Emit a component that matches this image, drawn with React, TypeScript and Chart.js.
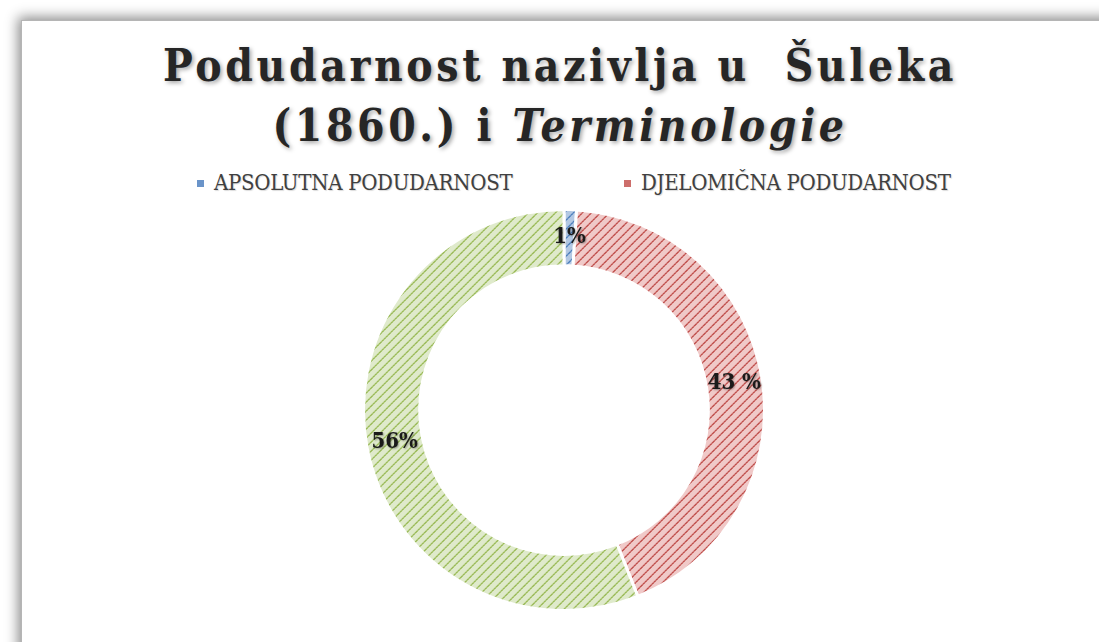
import React, { useEffect, useRef } from "react";
import { Chart, registerables } from "chart.js";

Chart.register(...registerables);

const categories = ["APSOLUTNA PODUDARNOST", "DJELOMIČNA PODUDARNOST", "NEPODUDARNOST"];
const values = [1, 43, 56];
const valueLabels = ["1%", "43 %", "56%"];
const legendShown = [0, 1];
const baseColors = ["#4f81bd", "#c0504d", "#9bbb59"];
const lightColors = ["#b3c8e3", "#f0c9c8", "#dfeacb"];
const legendColors = ["#6a94c9", "#cd6e6b", "#aac77a"];

function makePattern(bg: string, fg: string): CanvasPattern | string {
  const N = 9;
  const c = document.createElement("canvas");
  c.width = N;
  c.height = N;
  const ctx = c.getContext("2d");
  if (!ctx) return fg;
  ctx.fillStyle = bg;
  ctx.fillRect(0, 0, N, N);
  ctx.fillStyle = fg;
  for (let i = 0; i < N; i++) {
    const y = N - 1 - i;
    ctx.globalAlpha = i % 2 === 0 ? 1 : 0.8;
    ctx.fillRect(i, y, 1, 1);
    ctx.globalAlpha = i % 2 === 0 ? 0.75 : 0.55;
    ctx.fillRect((i + 1) % N, y, 1, 1);
    ctx.globalAlpha = 0.25;
    ctx.fillRect((i + N - 1) % N, y, 1, 1);
  }
  ctx.globalAlpha = 1;
  const p = ctx.createPattern(c, "repeat");
  return p || fg;
}

const labelPlugin = {
  id: "segLabels",
  afterDatasetsDraw(chart: any) {
    const ctx = chart.ctx;
    const meta = chart.getDatasetMeta(0);
    ctx.save();
    ctx.font = "bold 22px 'DejaVu Serif Condensed', 'DejaVu Serif', serif";
    ctx.textAlign = "center";
    ctx.textBaseline = "middle";
    ctx.fillStyle = "#1a1a1a";
    ctx.shadowColor = "rgba(0,0,0,0.35)";
    ctx.shadowBlur = 2;
    ctx.shadowOffsetX = 1;
    ctx.shadowOffsetY = 1;
    meta.data.forEach((arc: any, i: number) => {
      const p = arc.getCenterPoint();
      ctx.fillText(valueLabels[i], p.x, p.y);
    });
    ctx.restore();
  },
};

export default function App() {
  const ref = useRef<HTMLCanvasElement | null>(null);

  useEffect(() => {
    if (!ref.current) return;
    const patterns = baseColors.map((c, i) => makePattern(lightColors[i], c));
    const chart = new Chart(ref.current, {
      type: "doughnut",
      data: {
        labels: categories,
        datasets: [
          {
            data: values,
            backgroundColor: patterns as any,
            borderColor: "#ffffff",
            borderWidth: 3,
          },
        ],
      },
      options: {
        animation: false,
        responsive: true,
        maintainAspectRatio: false,
        cutout: "72%",
        layout: { padding: 0 },
        plugins: {
          legend: { display: false },
          tooltip: { enabled: false },
          title: { display: false },
        },
      },
      plugins: [labelPlugin],
    });
    return () => chart.destroy();
  }, []);

  const titleShadow = "2px 2px 4px rgba(0,0,0,0.35)";

  return (
    <div
      style={{
        position: "fixed",
        left: 0,
        top: 0,
        width: 1099,
        height: 642,
        overflow: "hidden",
        background: "#ffffff",
      }}
    >
      <div
        style={{
          position: "absolute",
          left: 21,
          top: 20,
          width: 1200,
          height: 700,
          background: "#ffffff",
          border: "1px solid #b5b5b5",
          boxShadow: "0 0 12px 3px rgba(0,0,0,0.45)",
        }}
      />
      <div
        style={{
          position: "absolute",
          left: 0,
          top: 36,
          width: 1120,
          textAlign: "center",
          fontFamily: "'DejaVu Serif Condensed', 'DejaVu Serif', serif",
          fontWeight: "bold",
          fontSize: 44,
          lineHeight: "60px",
          letterSpacing: "3.6px",
          color: "#262626",
          textShadow: titleShadow,
        }}
      >
        <div>Podudarnost nazivlja u&nbsp; Šuleka</div>
        <div>
          (1860.) i <span style={{ fontStyle: "italic" }}>Terminologie</span>
        </div>
      </div>
      <div
        style={{
          position: "absolute",
          left: 0,
          top: 169,
          width: 1120,
          height: 28,
          fontFamily: "'DejaVu Serif Condensed', 'DejaVu Serif', serif",
          fontSize: 22,
          letterSpacing: "-0.3px",
          color: "#404040",
          textShadow: "1px 1px 1px rgba(0,0,0,0.15)",
        }}
      >
        {legendShown.map((i, k) => (
          <div
            key={i}
            style={{
              position: "absolute",
              left: k === 0 ? 197 : 624,
              top: 0,
              display: "flex",
              alignItems: "center",
              whiteSpace: "nowrap",
              lineHeight: "28px",
            }}
          >
            <span
              style={{
                display: "inline-block",
                width: 7,
                height: 7,
                background: legendColors[i],
                marginRight: 10,
              }}
            />
            <span>{categories[i]}</span>
          </div>
        ))}
      </div>
      <div
        style={{
          position: "absolute",
          left: 362,
          top: 208,
          width: 404,
          height: 404,
        }}
      >
        <canvas ref={ref} />
      </div>
    </div>
  );
}
